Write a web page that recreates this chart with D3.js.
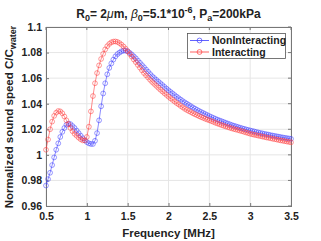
<!DOCTYPE html>
<html><head><meta charset="utf-8">
<script src="https://cdn.jsdelivr.net/npm/d3@7"></script>
<style>body{margin:0;background:#fff}svg{display:block}text{font-family:"Liberation Sans",Arial,sans-serif;font-weight:bold;fill:#222}</style>
</head><body><svg id="c" width="321" height="241"></svg>
<script>
const freq = [0.5,0.525,0.55,0.575,0.6,0.625,0.65,0.675,0.7,0.725,0.75,0.775,0.8,0.825,0.85,0.875,0.9,0.925,0.95,0.975,
1.0,1.025,1.05,1.075,1.1,1.125,1.15,1.175,1.2,1.225,1.25,1.275,1.3,1.325,1.35,1.375,1.4,1.425,1.45,1.475,
1.5,1.525,1.55,1.575,1.6,1.625,1.65,1.675,1.7,1.725,1.75,1.775,1.8,1.825,1.85,1.875,1.9,1.925,1.95,1.975,
2.0,2.025,2.05,2.075,2.1,2.125,2.15,2.175,2.2,2.225,2.25,2.275,2.3,2.325,2.35,2.375,2.4,2.425,2.45,2.475,
2.5,2.525,2.55,2.575,2.6,2.625,2.65,2.675,2.7,2.725,2.75,2.775,2.8,2.825,2.85,2.875,2.9,2.925,2.95,2.975,
3.0,3.025,3.05,3.075,3.1,3.125,3.15,3.175,3.2,3.225,3.25,3.275,3.3,3.325,3.35,3.375,3.4,3.425,3.45,3.475,3.5];
const nonInteracting = [0.976,0.981,0.986,0.992,0.998,1.004,1.009,1.014,1.018,1.021,1.0235,1.0245,1.024,1.0225,1.021,1.019,1.017,1.015,1.013,1.0115,
1.010,1.009,1.0085,1.0085,1.011,1.017,1.027,1.038,1.048,1.056,1.063,1.068,1.0715,1.0745,1.077,1.0788,1.080,1.081,1.0815,1.0815,
1.081,1.0798,1.0785,1.077,1.0755,1.0737,1.072,1.0702,1.0685,1.0667,1.065,1.0632,1.0615,1.0601,1.0587,1.0573,1.056,1.0546,1.0532,1.0518,
1.0505,1.0492,1.048,1.0467,1.0455,1.0443,1.0432,1.042,1.041,1.040,1.039,1.038,1.037,1.0361,1.0352,1.0343,1.0335,1.0327,1.0319,1.0311,
1.0303,1.0296,1.0289,1.0282,1.0275,1.0269,1.0263,1.0257,1.0251,1.0245,1.0239,1.0233,1.0228,1.0223,1.0218,1.0213,1.0208,1.0204,1.0199,1.0195,
1.0191,1.0187,1.0183,1.0179,1.0175,1.0171,1.0168,1.0164,1.0161,1.0158,1.0154,1.0151,1.0148,1.0145,1.0142,1.0139,1.0136,1.0133,1.0131,1.0128,1.0125];
const interacting = [1.004,1.012,1.020,1.026,1.0305,1.033,1.0343,1.034,1.0325,1.030,1.027,1.024,1.021,1.0185,1.0165,1.015,1.0135,1.0122,1.0113,1.0112,
1.014,1.022,1.034,1.046,1.056,1.064,1.070,1.075,1.079,1.0825,1.085,1.0868,1.088,1.0886,1.0887,1.0883,1.0874,1.0862,1.0847,1.083,
1.081,1.0789,1.0768,1.0746,1.0725,1.0703,1.0682,1.0661,1.064,1.0622,1.0605,1.0587,1.057,1.0555,1.054,1.0525,1.051,1.0496,1.0482,1.0469,
1.0455,1.0442,1.043,1.0417,1.0405,1.0394,1.0382,1.0371,1.036,1.0351,1.0342,1.0334,1.0325,1.0317,1.031,1.0302,1.0295,1.0289,1.0282,1.0276,
1.027,1.0264,1.0258,1.0251,1.0245,1.0239,1.0233,1.0228,1.0222,1.0217,1.0212,1.0207,1.0202,1.0198,1.0194,1.0189,1.0185,1.018,1.0175,1.017,
1.0165,1.0161,1.0157,1.0154,1.015,1.0147,1.0143,1.014,1.0136,1.0133,1.013,1.0126,1.0123,1.012,1.0116,1.0113,1.011,1.0107,1.0104,1.0101,1.0098];
const xTicks = [0.5,1,1.5,2,2.5,3,3.5];
const yTicks = [0.96,0.98,1,1.02,1.04,1.06,1.08,1.1];
const seriesNames = ["NonInteracting","Interacting"];
const seriesColors = ["#3b3bff","#ff3b3b"];

const svg = d3.select("#c");
const L=46,R=291,T=27,B=206;
const x = d3.scaleLinear().domain([0.5,3.5]).range([L,R]);
const y = d3.scaleLinear().domain([0.96,1.1]).range([B,T]);

// grid
const g = svg.append("g");
g.selectAll(".gx").data(xTicks).enter().append("line")
 .attr("x1",d=>x(d)).attr("x2",d=>x(d)).attr("y1",T).attr("y2",B)
 .attr("stroke","#e6e6e6").attr("stroke-width",1);
g.selectAll(".gy").data(yTicks).enter().append("line")
 .attr("y1",d=>y(d)).attr("y2",d=>y(d)).attr("x1",L).attr("x2",R)
 .attr("stroke","#e6e6e6").attr("stroke-width",1);

// axes
const xAxis = d3.axisBottom(x).tickValues(xTicks).tickSize(-3).tickPadding(7).tickFormat(d=>String(d));
const yAxis = d3.axisLeft(y).tickValues(yTicks).tickSize(-3).tickPadding(4).tickFormat(d=>String(+d.toFixed(2)));
const ax = svg.append("g").attr("transform",`translate(0,${B})`).call(xAxis);
const ay = svg.append("g").attr("transform",`translate(${L},0)`).call(yAxis);
[ax,ay].forEach(a=>{
  a.select(".domain").remove();
  a.selectAll("line").attr("stroke","#777");
  a.selectAll("text").attr("font-size","10.5px").attr("font-weight","bold").attr("fill","#222")
   .attr("font-family","Liberation Sans, Arial, sans-serif");
});
// top/right ticks
svg.append("g").selectAll("line").data(xTicks).enter().append("line")
 .attr("x1",d=>x(d)).attr("x2",d=>x(d)).attr("y1",T).attr("y2",T+3).attr("stroke","#777");
svg.append("g").selectAll("line").data(yTicks).enter().append("line")
 .attr("y1",d=>y(d)).attr("y2",d=>y(d)).attr("x1",R).attr("x2",R-3).attr("stroke","#777");
svg.append("rect").attr("x",L+0.5).attr("y",T+0.5).attr("width",R-L).attr("height",B-T)
 .attr("fill","none").attr("stroke","#777").attr("stroke-width",1);

// series
svg.append("clipPath").attr("id","clp").append("rect").attr("x",L-4).attr("y",T).attr("width",R-L+8).attr("height",B-T);
const seriesData = [nonInteracting, interacting];
const line = d3.line().x(d=>x(d[0])).y(d=>y(d[1]));
seriesData.forEach((vals,i)=>{
  const pts = freq.map((f,j)=>[f,vals[j]]);
  const sg = svg.append("g").attr("clip-path","url(#clp)");
  sg.append("path").datum(pts).attr("d",line).attr("fill","none")
    .attr("stroke",seriesColors[i]).attr("stroke-width",0.7).attr("opacity",0.85);
  sg.selectAll("circle").data(pts).enter().append("circle")
    .attr("cx",d=>x(d[0])).attr("cy",d=>y(d[1])).attr("r",2.4)
    .attr("fill","none").attr("stroke",seriesColors[i]).attr("stroke-width",0.7).attr("opacity",0.75);
});

// legend
const lg = svg.append("g");
lg.append("rect").attr("x",187.5).attr("y",33.5).attr("width",98).attr("height",25)
  .attr("fill","#fff").attr("stroke","#555").attr("stroke-width",0.8);
seriesNames.forEach((n,i)=>{
  const yy = 40.5 + i*11.5;
  lg.append("line").attr("x1",190).attr("x2",209).attr("y1",yy).attr("y2",yy)
    .attr("stroke",seriesColors[i]).attr("stroke-width",0.8);
  lg.append("circle").attr("cx",199.5).attr("cy",yy).attr("r",2.4).attr("fill","none")
    .attr("stroke",seriesColors[i]).attr("stroke-width",0.7);
  lg.append("text").attr("x",212).attr("y",yy+3.7).attr("font-size","10.5px").text(n);
});

// title
const title = svg.append("text").attr("x",168.5).attr("y",18).attr("text-anchor","middle").attr("font-size","12px");
title.append("tspan").text("R");
title.append("tspan").attr("dy",3).attr("font-size","9px").text("0");
title.append("tspan").attr("dy",-3).text("= 2");
title.append("tspan").attr("font-style","italic").attr("font-weight","normal").text("μ");
title.append("tspan").text("m, ");
title.append("tspan").attr("font-style","italic").attr("font-weight","normal").text("β");
title.append("tspan").attr("dy",3).attr("font-size","9px").text("0");
title.append("tspan").attr("dy",-3).text("=5.1*10");
title.append("tspan").attr("dy",-5).attr("font-size","9px").text("-6");
title.append("tspan").attr("dy",5).text(", P");
title.append("tspan").attr("dy",3).attr("font-size","9px").text("a");
title.append("tspan").attr("dy",-3).text("=200kPa");

// x label
svg.append("text").attr("x",168.5).attr("y",237).attr("text-anchor","middle").attr("font-size","11.5px").text("Frequency [MHz]");
// y label
const yl = svg.append("text").attr("transform","translate(13,117) rotate(-90)").attr("text-anchor","middle").attr("font-size","11.5px");
yl.append("tspan").text("Normalized sound speed C/C");
yl.append("tspan").attr("dy",3).attr("font-size","9px").text("water");
</script></body></html>
